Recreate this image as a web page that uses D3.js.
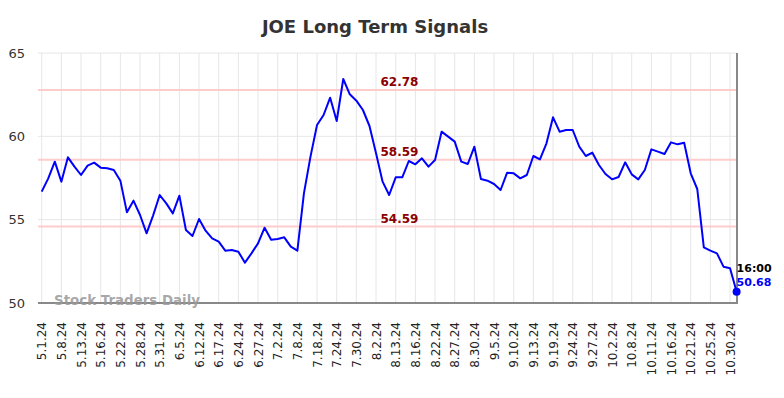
<!DOCTYPE html>
<html>
<head>
<meta charset="utf-8">
<script src="https://cdn.jsdelivr.net/npm/d3@7"></script>
<style>
body { margin: 0; background: #fff; }
text { font-family: "DejaVu Sans", sans-serif; }
</style>
</head>
<body>
<div id="chart"></div>
<script>
// JOE closing values, one per session shown on the chart
var values = [56.68, 57.48, 58.48, 57.28, 58.74, 58.18, 57.68, 58.24, 58.42, 58.12,
	58.08, 57.98, 57.34, 55.44, 56.14, 55.28, 54.18, 55.26, 56.48, 55.98,
	55.38, 56.44, 54.38, 54.02, 55.04, 54.34, 53.88, 53.68, 53.14, 53.18,
	53.08, 52.42, 52.98, 53.58, 54.52, 53.80, 53.84, 53.94, 53.38, 53.14,
	56.58, 58.78, 60.68, 61.28, 62.32, 60.92, 63.44, 62.52, 62.14, 61.58,
	60.62, 58.98, 57.28, 56.48, 57.54, 57.54, 58.52, 58.32, 58.68, 58.18,
	58.58, 60.28, 59.98, 59.68, 58.48, 58.34, 59.38, 57.44, 57.34, 57.14,
	56.78, 57.82, 57.78, 57.48, 57.68, 58.82, 58.62, 59.58, 61.14, 60.28,
	60.38, 60.38, 59.38, 58.82, 59.02, 58.28, 57.74, 57.42, 57.56, 58.44,
	57.72, 57.42, 57.98, 59.22, 59.08, 58.94, 59.64, 59.52, 59.62, 57.78,
	56.84, 53.34, 53.14, 52.98, 52.18, 52.08, 50.68];

// a label on every third session
var tickLabels = ["5.1.24", "5.8.24", "5.13.24", "5.16.24", "5.22.24", "5.28.24", "5.31.24",
	"6.5.24", "6.12.24", "6.17.24", "6.24.24", "6.27.24", "7.2.24", "7.8.24", "7.18.24",
	"7.24.24", "7.30.24", "8.2.24", "8.13.24", "8.16.24", "8.22.24", "8.27.24", "8.30.24",
	"9.5.24", "9.10.24", "9.13.24", "9.19.24", "9.24.24", "9.27.24", "10.2.24", "10.8.24",
	"10.11.24", "10.16.24", "10.21.24", "10.25.24", "10.30.24"];
var tickStep = 3;

var signalLevels = [62.78, 58.59, 54.59];
var yTicks = [50, 55, 60, 65];
var lastTime = "16:00";

var w = 784, h = 398;
var margin = {top: 53, right: 47, bottom: 95, left: 41.7};
var plotRight = w - margin.right;
var plotBottom = h - margin.bottom;

var svg = d3.select("#chart").append("svg")
	.attr("width", w)
	.attr("height", h);

var x = d3.scalePoint()
	.domain(d3.range(values.length))
	.range([margin.left, w - margin.right - 0.4]);
var y = d3.scaleLinear().domain([50, 65]).range([plotBottom, margin.top]);

var tickIdx = tickLabels.map(function(d, i) { return i * tickStep; });

// grid
svg.append("g").selectAll("line")
	.data(yTicks).enter().append("line")
	.attr("x1", 38).attr("x2", plotRight)
	.attr("y1", function(d) { return y(d); })
	.attr("y2", function(d) { return y(d); })
	.attr("stroke", "#e6e6e6").attr("stroke-width", 1);

svg.append("g").selectAll("line")
	.data(tickIdx).enter().append("line")
	.attr("x1", function(d) { return x(d); })
	.attr("x2", function(d) { return x(d); })
	.attr("y1", margin.top).attr("y2", plotBottom)
	.attr("stroke", "#e6e6e6").attr("stroke-width", 1);

// signal levels
svg.append("g").selectAll("line")
	.data(signalLevels).enter().append("line")
	.attr("x1", 38).attr("x2", plotRight)
	.attr("y1", function(d) { return y(d); })
	.attr("y2", function(d) { return y(d); })
	.attr("stroke", "#ffcccc").attr("stroke-width", 2);

svg.append("g").selectAll("text")
	.data(signalLevels).enter().append("text")
	.attr("x", 399.5)
	.attr("y", function(d) { return y(d) - 4; })
	.attr("text-anchor", "middle")
	.attr("font-size", "12px")
	.attr("font-weight", "bold")
	.attr("fill", "#8b0000")
	.text(function(d) { return d.toFixed(2); });

// axes
var yAxis = d3.axisLeft(y).tickValues(yTicks).tickSize(0).tickPadding(14);
svg.append("g")
	.attr("transform", "translate(39,0)")
	.call(yAxis)
	.call(function(g) { g.select(".domain").remove(); })
	.selectAll("text")
	.attr("font-size", "13px")
	.attr("fill", "#333");

var xAxis = d3.axisBottom(x).tickValues(tickIdx).tickSize(0)
	.tickFormat(function(d) { return tickLabels[d / tickStep]; });
svg.append("g")
	.attr("transform", "translate(0," + plotBottom + ")")
	.call(xAxis)
	.call(function(g) { g.select(".domain").remove(); })
	.selectAll("text")
	.attr("transform", "rotate(-90)")
	.attr("x", -19)
	.attr("y", 0)
	.attr("dy", "0.35em")
	.attr("text-anchor", "end")
	.attr("font-size", "12px")
	.attr("fill", "#222");

svg.append("line")
	.attr("x1", 38).attr("x2", plotRight + 1)
	.attr("y1", plotBottom).attr("y2", plotBottom)
	.attr("stroke", "#666").attr("stroke-width", 1.5);

svg.append("line")
	.attr("x1", plotRight).attr("x2", plotRight)
	.attr("y1", margin.top).attr("y2", plotBottom)
	.attr("stroke", "#888").attr("stroke-width", 2);

// watermark
svg.append("text")
	.attr("x", 54)
	.attr("y", 305)
	.attr("font-size", "13.4px")
	.attr("font-weight", "bold")
	.attr("fill", "#999")
	.attr("fill-opacity", 0.85)
	.text("Stock Traders Daily");

// price line
var line = d3.line()
	.x(function(d, i) { return x(i); })
	.y(function(d) { return y(d); });

svg.append("path")
	.datum(values)
	.attr("d", line)
	.attr("fill", "none")
	.attr("stroke", "#0000ff")
	.attr("stroke-width", 2)
	.attr("stroke-linejoin", "round");

var last = values.length - 1;
svg.append("circle")
	.attr("cx", x(last))
	.attr("cy", y(values[last]))
	.attr("r", 4)
	.attr("fill", "#0000ff");

svg.append("text")
	.attr("x", x(last))
	.attr("y", 272)
	.attr("font-size", "11px")
	.attr("font-weight", "bold")
	.attr("fill", "#000")
	.text(lastTime);

svg.append("text")
	.attr("x", x(last))
	.attr("y", 286)
	.attr("font-size", "11px")
	.attr("font-weight", "bold")
	.attr("fill", "#0000ff")
	.text(values[last].toFixed(2));

// title
svg.append("text")
	.attr("x", 375)
	.attr("y", 33)
	.attr("text-anchor", "middle")
	.attr("font-size", "18px")
	.attr("font-weight", "bold")
	.attr("fill", "#333")
	.text("JOE Long Term Signals");
</script>
</body>
</html>
